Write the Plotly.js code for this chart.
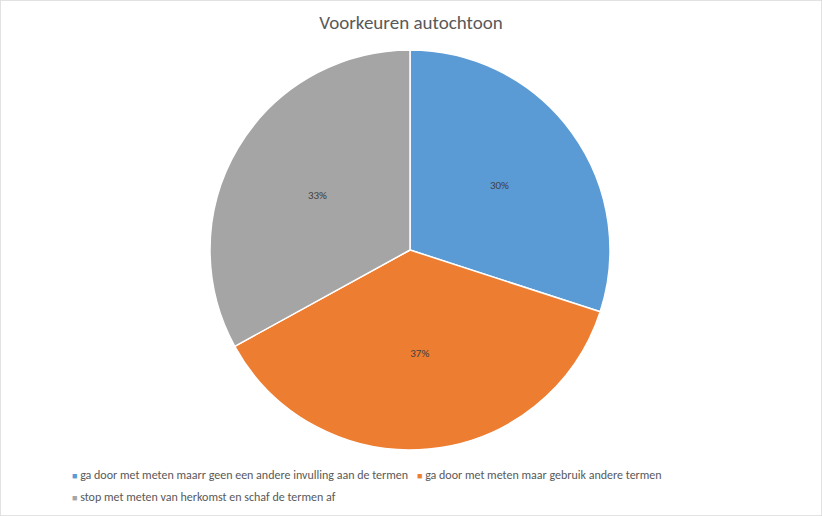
<!DOCTYPE html>
<html>
<head>
<meta charset="utf-8">
<script src="https://cdn.plot.ly/plotly-3.0.1.min.js"></script>
<style>
  html, body { margin: 0; padding: 0; background: #fff; }
  #chart { width: 822px; height: 516px; }
</style>
</head>
<body>
<div id="chart"></div>
<script>
// share per preference (percent)
let labels = [
    'ga door met meten maarr geen een andere invulling aan de termen',
    'ga door met meten maar gebruik andere termen',
    'stop met meten van herkomst en schaf de termen af'
];
let values = [30, 37, 33];
let colors = ['#5b9bd5', '#ed7d31', '#a5a5a5'];

let fontFam = 'Carlito, Calibri, "Liberation Sans Narrow", "Open Sans", sans-serif';

let trace = {
    type: 'pie',
    labels: labels,
    values: values,
    sort: false,
    direction: 'clockwise',
    rotation: 0,
    marker: { colors: colors, line: { color: '#ffffff', width: 1.5 } },
    textinfo: 'percent',
    texttemplate: '%{percent:.0%}',
    textposition: 'inside',
    insidetextorientation: 'horizontal',
    insidetextfont: { color: '#404040', size: 11, family: fontFam },
    hoverinfo: 'label+percent',
    domain: { x: [210 / 822, 610 / 822], y: [1 - 450 / 516, 1 - 50 / 516] },
    showlegend: false
};

// legend drawn as annotations: first two entries on row 1, third on row 2
let legendAnn = labels.map(function (lab, i) {
    return {
        xref: 'paper', yref: 'paper',
        x: i === 1 ? 415 / 822 : 70 / 822,
        y: i === 2 ? 1 - 497 / 516 : 1 - 475 / 516,
        xanchor: 'left', yanchor: 'middle',
        showarrow: false,
        text: '<span style="color:' + colors[i] + ';font-size:9px">■</span> ' + lab,
        font: { family: fontFam, size: 12, color: '#595959' }
    };
});

let layout = {
    width: 822,
    height: 516,
    margin: { l: 0, r: 0, t: 0, b: 0 },
    paper_bgcolor: '#ffffff',
    title: {
        text: 'Voorkeuren autochtoon',
        x: 0.5, xanchor: 'center',
        y: 1 - 22 / 516, yanchor: 'middle',
        font: { family: fontFam, size: 19, color: '#595959' }
    },
    annotations: legendAnn,
    shapes: [{
        type: 'rect', xref: 'paper', yref: 'paper',
        x0: 0, x1: 1, y0: 0, y1: 1,
        line: { color: '#d9d9d9', width: 1.5 }
    }]
};

Plotly.newPlot('chart', [trace], layout, { displayModeBar: false, staticPlot: true });
</script>
</body>
</html>
